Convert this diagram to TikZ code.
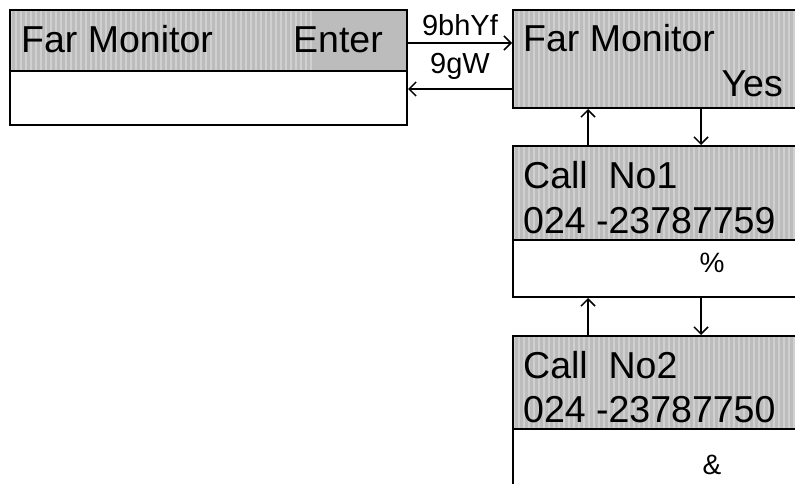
\documentclass[tikz,border=0pt]{standalone}
\usepackage{fontspec}
\usetikzlibrary{arrows.meta}
\newfontfamily\lcdfamily{Liberation Sans}
\newcommand{\lcdbig}{\lcdfamily\fontsize{37.5}{40}\selectfont}
\newcommand{\lcdkey}{\lcdfamily\fontsize{29}{32}\selectfont}
\newcommand{\lcdsym}{\lcdfamily\fontsize{28}{30}\selectfont}
\definecolor{lcdgrey}{RGB}{188,188,188}
\definecolor{lcdstripe}{RGB}{208,208,208}
\tikzset{lcdhead/.style={draw=black,line width=2pt,fill=lcdgrey,inner sep=0pt,anchor=north west,
  path picture={\foreach \s in {0,5,...,300} \fill[lcdstripe] ([xshift=\s pt]path picture bounding box.south west) rectangle +(2pt,120pt);}},
 lcdfoot/.style={draw=black,line width=2pt,fill=white,inner sep=0pt,anchor=north west},
 lcdtext/.style={font=\lcdbig,inner sep=0pt,anchor=base west},
 keylabel/.style={font=\lcdkey,inner sep=0pt,anchor=base},
 link/.style={-{Straight Barb[length=7pt,width=14pt]},line width=1.5pt}}

\begin{document}
\begin{tikzpicture}[x=1pt,y=-1pt]
\clip (0,0) rectangle (795,484);
\fill[white] (0,0) rectangle (795,484);
% menu screen
\node[lcdhead,minimum width=397pt,minimum height=61pt] (menuhd) at (9,9) {};
\node[lcdfoot,minimum width=397pt,minimum height=54pt] (menuft) at (9,70) {};
\node[lcdtext] (menuname) at (21,53) {Far Monitor};
\node[lcdtext,anchor=base east] (menukey) at (383,53) {Enter};
% confirm screen
\node[lcdhead,minimum width=290pt,minimum height=98pt] (farhd) at (512,9) {};
\node[lcdtext] (farname) at (523,52) {Far Monitor};
\node[lcdtext,anchor=base east] (faryes) at (783,97) {Yes};
% call numbers
\node[lcdhead,minimum width=290pt,minimum height=94pt] (callahd) at (512,145) {};
\node[lcdfoot,minimum width=290pt,minimum height=57pt] (callaft) at (512,239) {};
\node[lcdtext] (callaname) at (523,188) {Call\ \ No1};
\node[lcdtext] (callanum) at (523,233) {024 -23787759};
\node[font=\lcdsym,inner sep=0pt,anchor=base] (callakey) at (712,272) {\%};
\node[lcdhead,minimum width=290pt,minimum height=93pt] (callbhd) at (512,335) {};
\node[lcdfoot,minimum width=290pt,minimum height=70pt] (callbft) at (512,428) {};
\node[lcdtext] (callbname) at (523,378) {Call\ \ No2};
\node[lcdtext] (callbnum) at (523,422) {024 -23787750};
\node[font=\lcdsym,inner sep=0pt,anchor=base] (callbkey) at (712,474) {\&};
% links
\draw[link] (menuhd.east |- 0,43) -- node[keylabel,above=6pt] (golabel) {9bhYf} (farhd.west |- 0,43);
\draw[link] (farhd.west |- 0,89) -- node[keylabel,above=9pt] (backlabel) {9gW} (menuft.east |- 0,89);
\draw[link] (callahd.north -| 588,0) -- (farhd.south -| 588,0);
\draw[link] (farhd.south -| 701,0) -- (callahd.north -| 701,0);
\draw[link] (callbhd.north -| 588,0) -- (callaft.south -| 588,0);
\draw[link] (callaft.south -| 701,0) -- (callbhd.north -| 701,0);
\end{tikzpicture}
\end{document}
